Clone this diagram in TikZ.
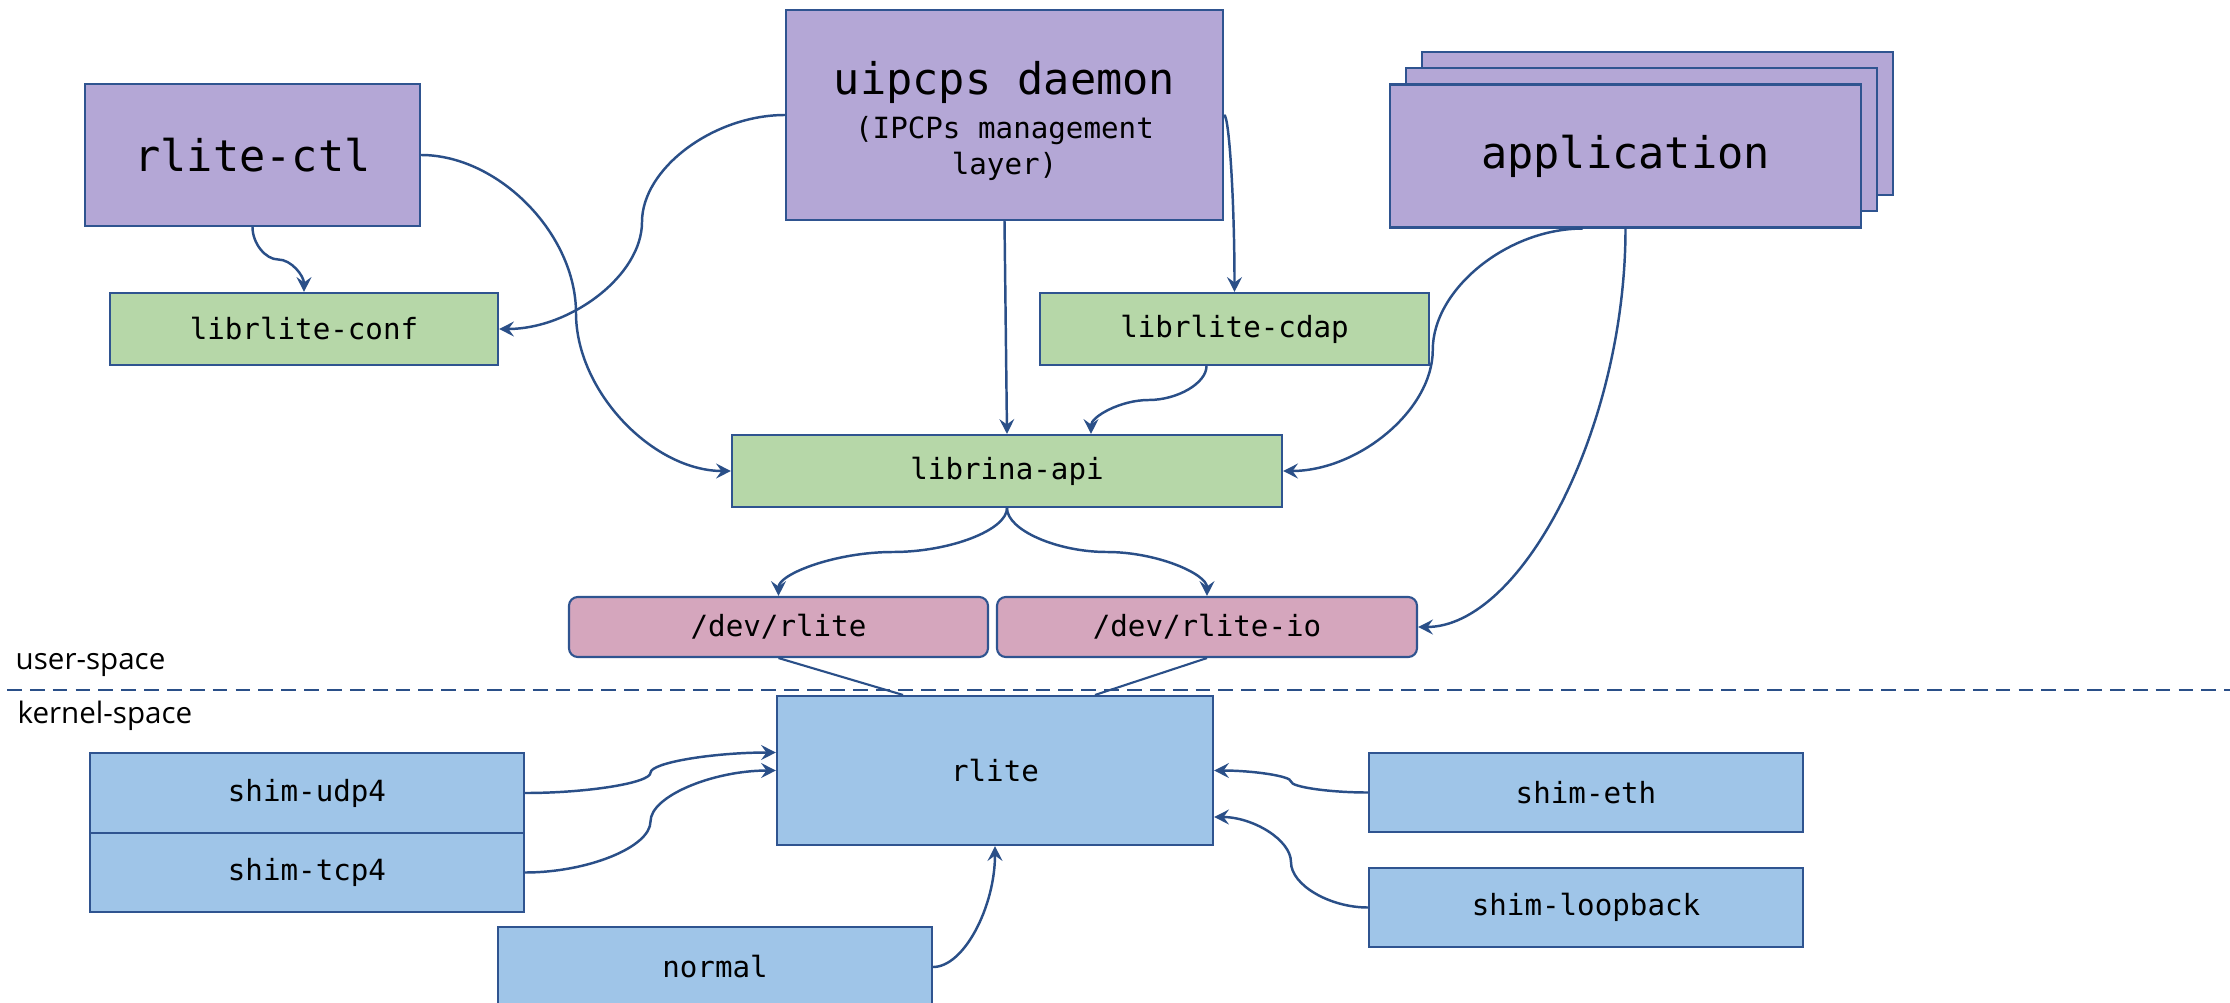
\documentclass[tikz,border=0pt]{standalone}
\usepackage{fontspec}
\setmainfont{Open Sans}
\setmonofont{DejaVu Sans Mono}
\usetikzlibrary{calc, arrows.meta}

% one pixel of the drawing
\newdimen\pxu
\pxu=0.01cm

\newcommand{\bigMono}{\fontsize{12.4}{15}\selectfont\ttfamily}
\newcommand{\smallMono}{\fontsize{8.3}{10.2}\selectfont\ttfamily}

% curved connector: leaves and enters sideways, upright in the middle
\newcommand{\hConn}[2]{%
    \coordinate (mid) at ($(#1)!.5!(#2)$);
    \draw[link] (#1) .. controls ($(#1)!.5!(#1 -| mid)$) and ($(mid)!.5!(mid |- #1)$) .. (mid)
        .. controls ($(mid)!.5!(mid |- #2)$) and ($(#2)!.5!(#2 -| mid)$) .. (#2);}
% curved connector: leaves and enters upright, sideways in the middle
\newcommand{\vConn}[2]{%
    \coordinate (mid) at ($(#1)!.5!(#2)$);
    \draw[link] (#1) .. controls ($(#1)!.5!(#1 |- mid)$) and ($(mid)!.5!(mid -| #1)$) .. (mid)
        .. controls ($(mid)!.5!(mid -| #2)$) and ($(#2)!.5!(#2 |- mid)$) .. (#2);}

\begin{document}
\begin{tikzpicture}[x=0.01cm, y=0.01cm,
    box/.style={draw=borderColour, line width=0.6pt, inner sep=0pt, font=\smallMono},
    procBox/.style={box, fill=procColour, font=\bigMono},
    libBox/.style={box, fill=libColour, minimum height=72\pxu},
    devBox/.style={box, fill=devColour, rounded corners=2.5pt, minimum height=60\pxu},
    kernBox/.style={box, fill=kernColour, minimum width=434\pxu, minimum height=80\pxu},
    link/.style={draw=lineColour, line width=0.7pt, -{Stealth[length=4.2pt, width=4.2pt, inset=1.5pt]}},
    plainLink/.style={draw=lineColour, line width=0.6pt},
    spaceLabel/.style={inner sep=0pt, font=\fontsize{8.4}{10}\selectfont}]

    \definecolor{borderColour}{HTML}{2F5490}
    \definecolor{lineColour}{HTML}{2A4F88}
    \definecolor{procColour}{HTML}{B4A7D6}
    \definecolor{libColour}{HTML}{B6D7A8}
    \definecolor{devColour}{HTML}{D5A6BD}
    \definecolor{kernColour}{HTML}{9FC5E8}

    \useasboundingbox (0,0) rectangle (2230,-1003);

    % Draw user/kernel divider
    \coordinate (divLeft) at (7,-690);
    \coordinate (divRight) at (2230,-690);
    \draw[draw=lineColour, line width=0.6pt, dash pattern=on 4.2pt off 2.3pt] (divLeft) -- (divRight);
    \node[spaceLabel, anchor=base west] (userLbl) at (15,-669) {user-space};
    \node[spaceLabel, anchor=base west] (kernLbl) at (17,-723) {kernel-space};

    % Draw user-space processes
    \node[procBox, minimum width=335\pxu, minimum height=142\pxu] (ctl) at (252.5,-155) {rlite-ctl};
    \node[procBox, font=\smallMono, minimum width=437\pxu, minimum height=210\pxu, align=center] (daemon) at (1004.5,-115)
        {\rule{0pt}{12.8pt}{\bigMono uipcps daemon}\\[2.3pt](IPCPs management\\layer)};
    \node[procBox, minimum width=471\pxu, minimum height=143\pxu] (appBack) at (1657.5,-123.5) {};
    \node[procBox, minimum width=471\pxu, minimum height=143\pxu] (appMid) at (1641.5,-139.5) {};
    \node[procBox, minimum width=471\pxu, minimum height=143\pxu] (app) at (1625.5,-156) {application};

    % Draw libraries
    \node[libBox, minimum width=388\pxu] (conf) at (304,-329) {librlite-conf};
    \node[libBox, minimum width=389\pxu] (cdap) at (1234.5,-329) {librlite-cdap};
    \node[libBox, minimum width=550\pxu] (api) at (1007,-471) {librina-api};

    % Draw device files
    \node[devBox, minimum width=419\pxu] (dev) at (778.5,-627) {/dev/rlite};
    \node[devBox, minimum width=420\pxu] (devio) at (1207,-627) {/dev/rlite-io};

    % Draw kernel modules
    \node[kernBox, minimum width=436\pxu, minimum height=149\pxu] (rlite) at (995,-770.5) {rlite};
    \node[kernBox] (udp) at (307,-793) {shim-udp4};
    \node[kernBox, minimum height=79\pxu] (tcp) at (307,-872.5) {shim-tcp4};
    \node[kernBox] (normal) at (715,-967) {normal};
    \node[kernBox, minimum height=79\pxu] (eth) at (1586,-792.5) {shim-eth};
    \node[kernBox, minimum height=79\pxu] (loop) at (1586,-907.5) {shim-loopback};

    % Connect user-space
    \vConn{ctl.south}{conf.north}
    \hConn{ctl.east}{api.west}
    \hConn{daemon.west}{conf.east}
    \draw[link] (daemon.south) -- (api.north);
    \draw[link] (daemon.east) .. controls ($(daemon.east)!.5!(daemon.east -| cdap.north)$)
        and ($(cdap.north)!.5!(cdap.north |- daemon.east)$) .. (cdap.north);
    \coordinate (cdapOut) at ($(cdap.south)+(-28,0)$);
    \coordinate (apiIn) at ($(api.north)+(84,0)$);
    \vConn{cdapOut}{apiIn}
    \coordinate (appOut) at ($(app.south)+(-43,0)$);
    \hConn{appOut}{api.east}
    \draw[link] (app.south) .. controls ($(app.south)!.5!(app.south |- devio.east)$)
        and ($(devio.east)!.5!(devio.east -| app.south)$) .. (devio.east);
    \vConn{api.south}{dev.north}
    \vConn{api.south}{devio.north}

    % Connect device files to rlite
    \draw[plainLink] (dev.south) -- ($(rlite.north)+(-92,0)$);
    \draw[plainLink] (devio.south) -- ($(rlite.north)+(100,0)$);

    % Connect kernel modules
    \coordinate (udpIn) at ($(rlite.west)+(0,18)$);
    \hConn{udp.east}{udpIn}
    \hConn{tcp.east}{rlite.west}
    \draw[link] (normal.east) .. controls ($(normal.east)!.5!(normal.east -| rlite.south)$)
        and ($(rlite.south)!.5!(rlite.south |- normal.east)$) .. (rlite.south);
    \hConn{eth.west}{rlite.east}
    \coordinate (loopIn) at ($(rlite.east)+(0,-46.5)$);
    \hConn{loop.west}{loopIn}

\end{tikzpicture}
\end{document}
